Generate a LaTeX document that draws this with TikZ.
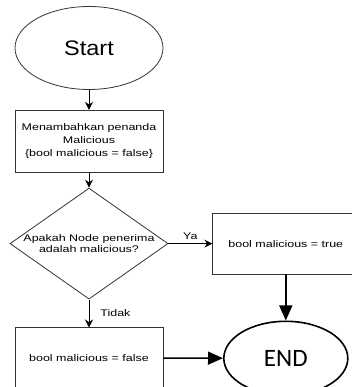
\documentclass[tikz,border=0pt]{standalone}
\usepackage{fontspec}
\setmainfont{Liberation Sans}
\newfontfamily\boxfont[FakeStretch=1.3]{Liberation Sans}
\newfontfamily\startfont[FakeStretch=1.12]{Liberation Sans}
\newfontfamily\endfont{Carlito}
\usepackage{tikz}
\usetikzlibrary{shapes.geometric,arrows.meta,positioning}

\begin{document}
\begin{tikzpicture}[
    node distance=20pt,
    terminal/.style={ellipse, draw=black!80, line width=0.8pt, minimum width=148pt, minimum height=83pt, font=\startfont\fontsize{21}{24}\selectfont},
    endterm/.style={ellipse, draw=black, line width=1.6pt, minimum width=124pt, minimum height=74pt, font=\endfont\fontsize{25}{28}\selectfont},
    block/.style={rectangle, draw=black!80, line width=0.8pt, minimum width=148pt, minimum height=62pt, align=center, font=\boxfont\fontsize{9.6}{13}\selectfont},
    decision/.style={diamond, draw=black!80, line width=0.8pt, minimum width=158pt, minimum height=111pt, inner sep=0pt},
    lbl/.style={font=\boxfont\fontsize{9.6}{11}\selectfont, inner sep=1pt},
    arrow/.style={-{Stealth[length=8pt, width=8pt]}, line width=0.8pt},
    bigarrow/.style={-{Triangle[length=15pt, width=13pt]}, line width=1.4pt},
]
    \useasboundingbox (0,0) rectangle (351pt,387pt);
    \node[terminal] (start) at (89pt,339pt) {Start};
    \node[block, below=20pt of start] (mark) {Menambahkan penanda\\Malicious\\\{bool malicious = false\}};
    \node[decision, below=15pt of mark] (cek) {};
    \node[lbl, align=center] (cektext) at (cek) {Apakah Node penerima\\adalah malicious?};
    \node[block, minimum width=146pt, minimum height=61pt, right=44pt of cek] (ttrue) {bool malicious = true};
    \node[block, minimum height=60pt, below=28pt of cek] (tfalse) {bool malicious = false};
    \node[endterm, below=46pt of ttrue] (finish) {END};

    \draw[arrow] (start) -- (mark);
    \draw[arrow] (mark) -- (cek);
    \draw[arrow] (cek) -- node[lbl, above=3pt] (ya) {Ya} (ttrue);
    \draw[arrow] (cek) -- node[lbl, right=10pt] (tidak) {Tidak} (tfalse);
    \draw[bigarrow] (ttrue) -- (finish);
    \draw[bigarrow] (tfalse) -- (finish);
\end{tikzpicture}
\end{document}
